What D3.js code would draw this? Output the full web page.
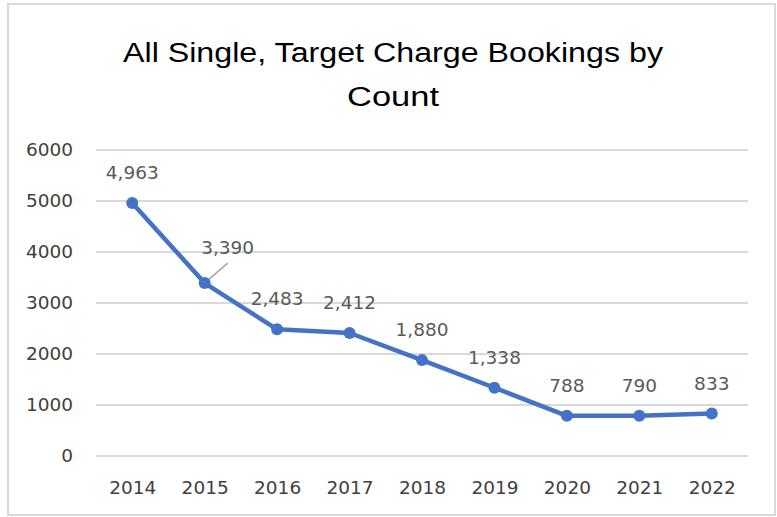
<!DOCTYPE html>
<html>
<head>
<meta charset="utf-8">
<script src="https://cdn.jsdelivr.net/npm/d3@7"></script>
<style>
body { margin: 0; background: #fff; }
</style>
</head>
<body>
<svg id="chart"></svg>
<script>
// chart data
var years = ["2014", "2015", "2016", "2017", "2018", "2019", "2020", "2021", "2022"];
var bookings = [4963, 3390, 2483, 2412, 1880, 1338, 788, 790, 833];
var yTicks = [0, 1000, 2000, 3000, 4000, 5000, 6000];
var titleLines = ["All Single, Target Charge Bookings by", "Count"];

var screen = {width: 777, height: 517};
var plot = {left: 96, right: 748, top: 150, bottom: 456};
var blue = "#4472C4";
var titleFont = "'Liberation Sans', Arial, sans-serif";
var labelFont = "'DejaVu Sans', sans-serif";
var fs = 18.5;

var svg = d3.select("#chart")
    .attr("width", screen.width)
    .attr("height", screen.height)

// frame
svg.append("rect")
    .attr("x", 8).attr("y", 4)
    .attr("width", 767).attr("height", 511)
    .attr("fill", "#fff")
    .attr("stroke", "#d9d9d9")
    .attr("stroke-width", 2)

var titleWidths = [540, 92];
svg.selectAll(".title")
    .data(titleLines)
    .enter()
    .append("text")
    .attr("class", "title")
    .attr("x", 393)
    .attr("y", function(d, i) { return 62 + i * 44 })
    .attr("text-anchor", "middle")
    .attr("font-family", titleFont)
    .attr("font-size", 27)
    .attr("textLength", function(d, i) { return titleWidths[i] })
    .attr("lengthAdjust", "spacingAndGlyphs")
    .attr("fill", "#000")
    .text(function(d) { return d })

var xScale = d3.scalePoint()
    .domain(years)
    .range([plot.left, plot.right])
    .padding(0.5)

var yScale = d3.scaleLinear()
    .domain([0, 6000])
    .range([plot.bottom, plot.top])

// gridlines
svg.selectAll(".grid")
    .data(yTicks)
    .enter()
    .append("line")
    .attr("class", "grid")
    .attr("x1", plot.left)
    .attr("x2", plot.right)
    .attr("y1", function(d) { return yScale(d) })
    .attr("y2", function(d) { return yScale(d) })
    .attr("stroke", "#d9d9d9")
    .attr("stroke-width", 2)

var yAxis = svg.append("g")
    .attr("transform", "translate(" + plot.left + ",0)")
    .call(d3.axisLeft(yScale).tickValues(yTicks).tickSize(0).tickPadding(23).tickFormat(d3.format("d")))
yAxis.select(".domain").remove()
yAxis.selectAll("text")
    .attr("font-family", labelFont)
    .attr("font-size", fs)
    .attr("fill", "#404040")

var xAxis = svg.append("g")
    .attr("transform", "translate(0," + plot.bottom + ")")
    .call(d3.axisBottom(xScale).tickSize(0).tickPadding(25))
xAxis.select(".domain").remove()
xAxis.selectAll("text")
    .attr("font-family", labelFont)
    .attr("font-size", fs)
    .attr("fill", "#404040")

var points = years.map(function(y, i) { return {year: y, value: bookings[i]} })

var line = d3.line()
    .x(function(p) { return xScale(p.year) })
    .y(function(p) { return yScale(p.value) })

svg.append("path")
    .datum(points)
    .attr("d", line)
    .attr("fill", "none")
    .attr("stroke", blue)
    .attr("stroke-width", 4.5)
    .attr("stroke-linejoin", "round")

// leader line for 2015 label
svg.append("line")
    .attr("x1", xScale("2015") + 1)
    .attr("y1", yScale(3390) - 1)
    .attr("x2", xScale("2015") + 23)
    .attr("y2", yScale(3390) - 20)
    .attr("stroke", "#a6a6a6")
    .attr("stroke-width", 1.5)

svg.selectAll("circle")
    .data(points)
    .enter()
    .append("circle")
    .attr("cx", function(p) { return xScale(p.year) })
    .attr("cy", function(p) { return yScale(p.value) })
    .attr("r", 6)
    .attr("fill", blue)

// the 2015 label was moved off the line
var labelDx = {"2015": 23};
var labelDy = {"2015": -5};

svg.selectAll(".dlabel")
    .data(points)
    .enter()
    .append("text")
    .attr("class", "dlabel")
    .attr("x", function(p) { return xScale(p.year) + (labelDx[p.year] || 0) })
    .attr("y", function(p) { return yScale(p.value) - 24 + (labelDy[p.year] || 0) })
    .attr("text-anchor", "middle")
    .attr("font-family", labelFont)
    .attr("font-size", fs)
    .attr("fill", "#595959")
    .text(function(p) { return d3.format(",")(p.value) })
</script>
</body>
</html>
